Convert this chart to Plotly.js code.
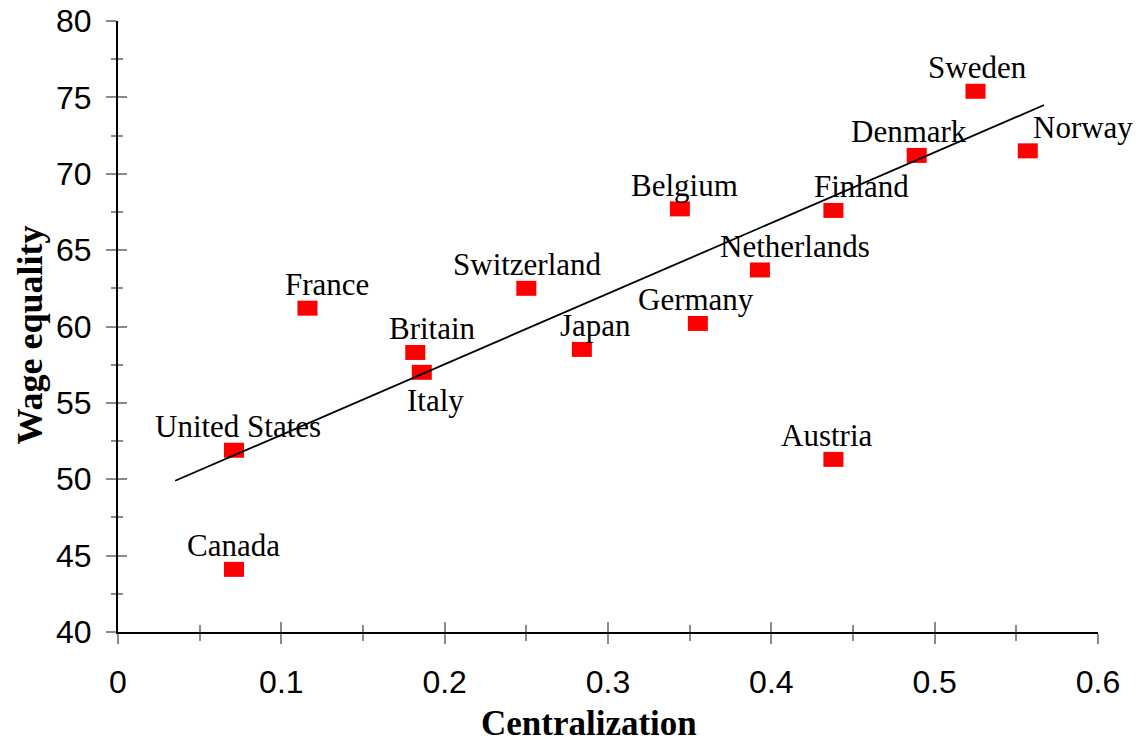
<!DOCTYPE html>
<html>
<head>
<meta charset="utf-8">
<script src="https://cdn.plot.ly/plotly-3.0.1.min.js"></script>
<style>
  html, body { margin: 0; padding: 0; background: #ffffff; }
  #chart { width: 1136px; height: 748px; }
</style>
</head>
<body>
<div id="chart"></div>
<script>
// ---- data ----
const countries = ["United States", "Canada", "France", "Britain", "Italy", "Switzerland",
  "Japan", "Germany", "Belgium", "Netherlands", "Finland", "Austria", "Denmark", "Sweden", "Norway"];
const centralization = [0.071, 0.071, 0.116, 0.182, 0.186, 0.250,
  0.284, 0.355, 0.344, 0.393, 0.438, 0.438, 0.489, 0.525, 0.557];
const wageEquality = [51.9, 44.1, 61.2, 58.3, 57.0, 62.5,
  58.5, 60.2, 67.7, 63.7, 67.6, 51.3, 71.2, 75.4, 71.5];
const trendX = [0.035, 0.567];
const trendY = [49.9, 74.5];
const xTickVals = [0, 0.1, 0.2, 0.3, 0.4, 0.5, 0.6];
const xTickText = ["0", "0.1", "0.2", "0.3", "0.4", "0.5", "0.6"];
const yTickVals = [40, 45, 50, 55, 60, 65, 70, 75, 80];
const yTickText = ["40", "45", "50", "55", "60", "65", "70", "75", "80"];
const xTitle = "Centralization";
const yTitle = "Wage equality";

// ---- label placement (style only: pixel nudges relative to each marker) ----
const labelPlacement = {
  "United States": {dx: 4, below: false},
  "Canada": {dx: 0, below: false},
  "France": {dx: 20, below: false},
  "Britain": {dx: 17, below: false},
  "Italy": {dx: 14, below: true},
  "Switzerland": {dx: 1, below: false},
  "Japan": {dx: 14, below: false},
  "Germany": {dx: -2, below: false},
  "Belgium": {dx: 5, below: false},
  "Netherlands": {dx: 35, below: false},
  "Finland": {dx: 28, below: false},
  "Austria": {dx: -6, below: false},
  "Denmark": {dx: -8, below: false},
  "Sweden": {dx: 2, below: false},
  "Norway": {dx: 55, below: false}
};

const tickColor = "#8a8a8a";
const serif = "Liberation Serif, Times New Roman, serif";
const sans = "Liberation Sans, Arial, sans-serif";

const points = {
  x: centralization, y: wageEquality, type: "scatter", mode: "markers",
  marker: {symbol: "line-ew", size: 14.3, color: "#ff0000", line: {color: "#ff0000", width: 15}},
  hoverinfo: "text", text: countries, showlegend: false, xaxis: "x", yaxis: "y"
};
const trend = {
  x: trendX, y: trendY, type: "scatter", mode: "lines",
  line: {color: "#000000", width: 1.8}, hoverinfo: "skip", showlegend: false, xaxis: "x", yaxis: "y"
};
// invisible copy on the overlay axes so their inward ticks are drawn
const ghost = {
  x: trendX, y: trendY, type: "scatter", mode: "lines",
  line: {color: "rgba(0,0,0,0)", width: 0}, hoverinfo: "skip", showlegend: false, xaxis: "x2", yaxis: "y2"
};

const annotations = countries.map((c, i) => {
  const p = labelPlacement[c];
  return {
    x: centralization[i], y: wageEquality[i], xref: "x", yref: "y",
    text: c, showarrow: false,
    xanchor: "center", yanchor: p.below ? "top" : "bottom",
    xshift: p.dx, yshift: p.below ? -9 : 4,
    font: {family: serif, size: 31, color: "#000000"}
  };
});
// axis titles as annotations so they can sit exactly where the reference has them
annotations.push({
  xref: "paper", yref: "paper", x: 0.5, y: 0, xanchor: "center", yanchor: "top",
  xshift: -19, yshift: -70, showarrow: false, text: "<b>" + xTitle + "</b>",
  font: {family: serif, size: 35, color: "#000000"}
});
annotations.push({
  xref: "paper", yref: "paper", x: 0, y: 0.5, xanchor: "center", yanchor: "middle",
  xshift: -89, yshift: -9, textangle: -90, showarrow: false, text: "<b>" + yTitle + "</b>",
  font: {family: serif, size: 36, color: "#000000"}
});

const baseX = {
  range: [0, 0.6], tickmode: "array", tickvals: xTickVals, ticktext: xTickText,
  showgrid: false, zeroline: false, fixedrange: true
};
const baseY = {
  range: [40, 80], tickmode: "array", tickvals: yTickVals, ticktext: yTickText,
  showgrid: false, zeroline: false, fixedrange: true
};

const layout = {
  width: 1136, height: 748,
  margin: {l: 118, r: 38, t: 21, b: 116, pad: 0},
  paper_bgcolor: "#ffffff", plot_bgcolor: "#ffffff",
  showlegend: false,
  xaxis: Object.assign({}, baseX, {
    showline: true, linecolor: "#000000", linewidth: 2,
    ticks: "outside", ticklen: 10, tickwidth: 2, tickcolor: tickColor,
    minor: {dtick: 0.05, tick0: 0, ticks: "outside", ticklen: 7, tickwidth: 2, tickcolor: tickColor, showgrid: false},
    tickfont: {family: sans, size: 32, color: "#000000"},
    ticklabelstandoff: 11
  }),
  yaxis: Object.assign({}, baseY, {
    showline: true, linecolor: "#000000", linewidth: 2,
    ticks: "outside", ticklen: 10, tickwidth: 2, tickcolor: tickColor,
    minor: {dtick: 2.5, tick0: 40, ticks: "outside", ticklen: 5, tickwidth: 2, tickcolor: tickColor, showgrid: false},
    tickfont: {family: sans, size: 32, color: "#000000"},
    ticklabelstandoff: 8
  }),
  xaxis2: Object.assign({}, baseX, {
    overlaying: "x", anchor: "y2", side: "bottom", showline: false, showticklabels: false,
    ticks: "inside", ticklen: 10, tickwidth: 2, tickcolor: tickColor,
    minor: {dtick: 0.05, tick0: 0, ticks: "inside", ticklen: 7, tickwidth: 2, tickcolor: tickColor, showgrid: false}
  }),
  yaxis2: Object.assign({}, baseY, {
    overlaying: "y", anchor: "x2", side: "left", showline: false, showticklabels: false,
    ticks: "inside", ticklen: 9, tickwidth: 2, tickcolor: tickColor,
    minor: {dtick: 2.5, tick0: 40, ticks: "inside", ticklen: 5, tickwidth: 2, tickcolor: tickColor, showgrid: false}
  }),
  annotations: annotations
};

Plotly.newPlot("chart", [ghost, points, trend], layout, {displayModeBar: false, staticPlot: true});
</script>
</body>
</html>
